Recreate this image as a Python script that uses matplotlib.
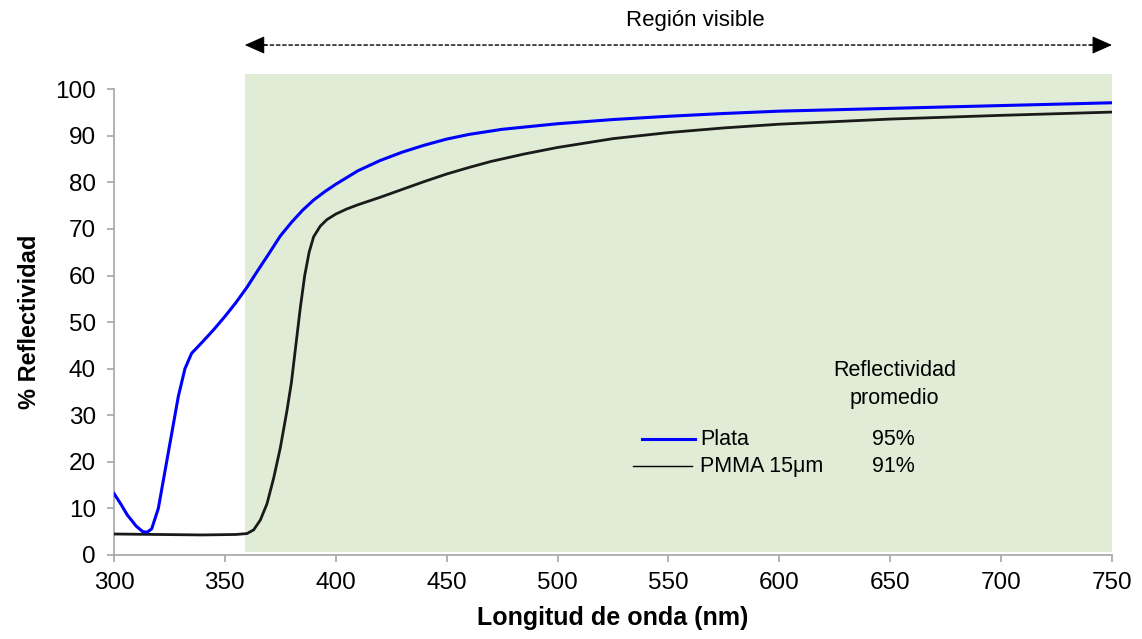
import matplotlib.pyplot as plt
from matplotlib.lines import Line2D

plt.rcParams["font.family"] = ["Liberation Sans", "DejaVu Sans"]

# Plata (silver) reflectance
plata_nm = [300, 303, 306, 310, 313, 315, 317, 320, 323, 326, 329, 332, 335,
            340, 345, 350, 355, 360, 365, 370, 375, 380, 385, 390, 395, 400,
            410, 420, 430, 440, 450, 460, 475, 500, 525, 550, 575, 600, 650,
            700, 750]
plata_r = [13.2, 11.0, 8.6, 6.2, 5.0, 4.9, 5.6, 10.0, 18.0, 26.0, 34.0, 40.0,
           43.3, 45.8, 48.4, 51.2, 54.2, 57.5, 61.2, 64.8, 68.5, 71.4, 74.0,
           76.2, 78.0, 79.6, 82.5, 84.7, 86.5, 88.0, 89.3, 90.3, 91.4, 92.6,
           93.5, 94.2, 94.8, 95.3, 95.9, 96.5, 97.1]

# PMMA 15um coated reflectance
pmma_nm = [300, 320, 340, 355, 360, 363, 366, 369, 372, 375, 378, 380, 382,
           384, 386, 388, 390, 393, 396, 400, 405, 410, 420, 430, 440, 450,
           460, 470, 485, 500, 525, 550, 575, 600, 650, 700, 750]
pmma_r = [4.5, 4.4, 4.3, 4.4, 4.6, 5.4, 7.5, 11.0, 16.5, 23.0, 31.0, 37.0,
          45.0, 53.0, 60.0, 65.0, 68.3, 70.6, 72.0, 73.2, 74.3, 75.2, 76.8,
          78.5, 80.2, 81.8, 83.2, 84.5, 86.1, 87.5, 89.4, 90.7, 91.7, 92.5,
          93.6, 94.4, 95.1]

vis_start, vis_end = 359, 750
avg_labels = ["Plata", "PMMA 15\u03bcm"]
avg_values = ["95%", "91%"]

fig = plt.figure(figsize=(11.42, 6.39), dpi=100)
ax = fig.add_axes([0.0998, 0.1315, 0.8739, 0.7288])

gray = "#a6a6a6"
ax.axvspan(vis_start, vis_end, ymin=0.007, ymax=1.033, color="#e0ecd6",
           lw=0, clip_on=False, zorder=0)

ax.plot(pmma_nm, pmma_r, color="#1a1a1a", lw=2.0, zorder=3)
ax.plot(plata_nm, plata_r, color="#0000ff", lw=2.2, zorder=4)

ax.set_xlim(300, 750)
ax.set_ylim(0, 100)
ax.set_xticks(range(300, 751, 50))
ax.set_yticks(range(0, 101, 10))
for s in ["top", "right"]:
    ax.spines[s].set_visible(False)
for s in ["left", "bottom"]:
    ax.spines[s].set_color(gray)
    ax.spines[s].set_linewidth(1.2)
ax.tick_params(colors=gray, labelcolor="black", labelsize=17.5, length=5,
               width=1.2)
ax.tick_params(axis="x", pad=7)
ax.tick_params(axis="y", pad=8)
ax.set_xlabel("Longitud de onda (nm)", fontsize=18, fontweight="bold",
              labelpad=9)
ax.set_ylabel("% Reflectividad", fontsize=17, fontweight="bold", labelpad=10)

# visible region arrow: dashed shaft plus two solid heads
arrow_y = 109.5
ax.annotate("", xy=(vis_start + 6, arrow_y), xytext=(vis_end - 6, arrow_y),
            arrowprops=dict(arrowstyle="-", ls=(0, (2.5, 2)), lw=1.0,
                            color="black", shrinkA=0, shrinkB=0),
            annotation_clip=False)
for tip, tail in [(vis_start, vis_start + 10), (vis_end, vis_end - 10)]:
    ax.annotate("", xy=(tip, arrow_y), xytext=(tail, arrow_y),
                arrowprops=dict(arrowstyle="-|>,head_length=0.45,head_width=0.2",
                                lw=0.8, color="black", mutation_scale=28,
                                shrinkA=0, shrinkB=0),
                annotation_clip=False)
ax.text(562, 114.8, "Región visible", fontsize=16, ha="center",
        va="center", clip_on=False)

# legend drawn by hand
ax.text(652, 39.7, "Reflectividad", fontsize=15.5, ha="center", va="center")
ax.text(652, 33.7, "promedio", fontsize=15.5, ha="center", va="center")
ax.add_line(Line2D([538.1, 562.2], [24.8, 24.8], color="#0000ff", lw=2.2))
ax.add_line(Line2D([534.2, 560.8], [19.1, 19.1], color="black", lw=1.0))
for y, lab, val in zip([24.8, 19.1], avg_labels, avg_values):
    ax.text(564.4, y, lab, fontsize=15.5, ha="left", va="center")
    ax.text(641.9, y, val, fontsize=15.5, ha="left", va="center")

fig.savefig("out.png", dpi=100)
